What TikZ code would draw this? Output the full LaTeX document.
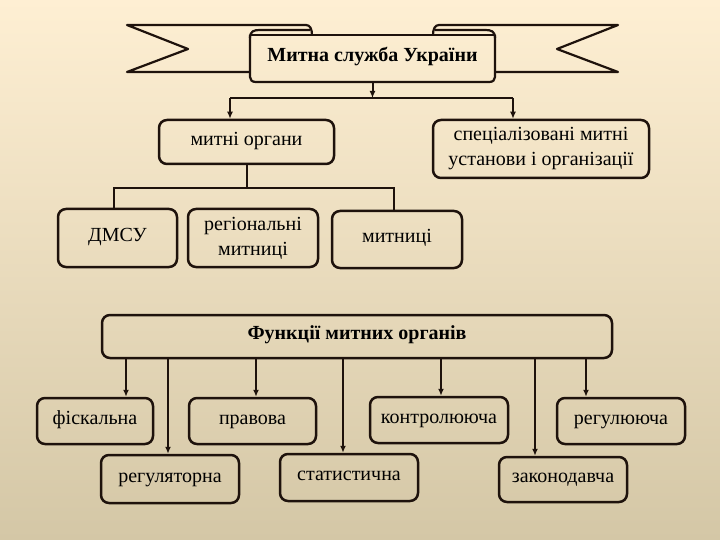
\documentclass[tikz,border=0pt]{standalone}
\usepackage{fontspec}
\setmainfont{Liberation Serif}
\usetikzlibrary{arrows.meta}
\definecolor{ink}{HTML}{1E120C}
\definecolor{bgtop}{HTML}{FEEFD3}
\definecolor{bgbot}{HTML}{D4C7A6}
\begin{document}
\begin{tikzpicture}[x=1pt,y=-1pt,
  ln/.style={draw=ink,line width=2.2pt,line join=round},
  box/.style={draw=ink,line width=2.5pt,rounded corners=8pt,align=center,inner sep=0pt,
    font=\fontsize{20}{25}\selectfont},
  one/.style={text height=0.9em,text depth=0.25em},
  arr/.style={draw=ink,line width=2pt,-{Latex[length=7pt,width=6pt]}},
  con/.style={draw=ink,line width=2pt}]
\shade[top color=bgtop,bottom color=bgbot] (0,0) rectangle (720,540);
\useasboundingbox (0,0) rectangle (720,540);

% banner
\draw[ln] (250,72) -- (127,72) -- (188,49) -- (127,25) -- (306,25)
  .. controls (310,25) and (312,29) .. (312,35);
\draw[ln] (495,72) -- (618,72) -- (557,49) -- (618,25) -- (439,25)
  .. controls (435,25) and (433,29) .. (433,35);
\draw[ln] (250,38) .. controls (250,31) and (254,30) .. (260,30) -- (310,30);
\draw[ln] (495,38) .. controls (495,31) and (491,30) .. (485,30) -- (435,30);
\draw[ln] (250,35) -- (495,35);
\draw[ln] (250,35) -- (250,77) .. controls (250,80) and (252,82) .. (256,82) -- (489,82)
  .. controls (493,82) and (495,80) .. (495,77) -- (495,35);
\node[font=\bfseries\fontsize{20}{24}\selectfont,one] (title) at (372.5,58.5) {Митна служба України};

% upper boxes
\node[box,one,minimum width=175pt,minimum height=44pt] (org) at (246.5,142) {митні органи};
\node[box,minimum width=216pt,minimum height=58pt] (spec) at (541,149) {спеціалізовані митні\\установи і організації};
\node[box,one,minimum width=119pt,minimum height=58pt] (dmsu) at (117.5,238) {ДМСУ};
\node[box,minimum width=130pt,minimum height=58pt] (reg) at (253,238) {регіональні\\митниці};
\node[box,one,minimum width=130pt,minimum height=57pt] (myt) at (397,239.5) {митниці};

\coordinate (pb) at (372.5,82);
\coordinate (bus) at (372.5,98);
\coordinate (bl) at (230,98);
\coordinate (br) at (513,98);
\draw[arr] (pb) -- (bus);
\draw[con] (bl) -- (br);
\draw[arr] (bl) -- (bl |- org.north);
\draw[arr] (br) -- (br |- spec.north);

\coordinate (ml) at (114,188);
\coordinate (mr) at (394,188);
\draw[con] (org.south) -- (org.south |- ml);
\draw[con,line join=miter] (ml |- dmsu.north) -- (ml) -- (mr) -- (mr |- myt.north);

% functions
\node[box,one,minimum width=510pt,minimum height=43pt,font=\bfseries\fontsize{20}{24}\selectfont] (func) at (357,336.5) {Функції митних органів};
\node[box,one,minimum width=116pt,minimum height=46pt] (fisk) at (95,421) {фіскальна};
\node[box,one,minimum width=127pt,minimum height=46pt] (prav) at (252.5,421) {правова};
\node[box,one,minimum width=138pt,minimum height=46pt] (kontr) at (439,420) {контролююча};
\node[box,one,minimum width=128pt,minimum height=46pt] (regul) at (621,421) {регулююча};
\node[box,one,minimum width=138pt,minimum height=48pt] (regl) at (170,479) {регуляторна};
\node[box,one,minimum width=138pt,minimum height=47pt] (stat) at (349,477.5) {статистична};
\node[box,one,minimum width=128pt,minimum height=45pt] (zak) at (563,479.5) {законодавча};

\coordinate (x1) at (126,0);
\coordinate (x2) at (168,0);
\coordinate (x3) at (256,0);
\coordinate (x4) at (343,0);
\coordinate (x5) at (441,0);
\coordinate (x6) at (535,0);
\coordinate (x7) at (586,0);
\draw[arr] (func.south -| x1) -- (fisk.north -| x1);
\draw[arr] (func.south -| x2) -- (regl.north -| x2);
\draw[arr] (func.south -| x3) -- (prav.north -| x3);
\draw[arr] (func.south -| x4) -- (stat.north -| x4);
\draw[arr] (func.south -| x5) -- (kontr.north -| x5);
\draw[arr] (func.south -| x6) -- (zak.north -| x6);
\draw[arr] (func.south -| x7) -- (regul.north -| x7);
\end{tikzpicture}
\end{document}
